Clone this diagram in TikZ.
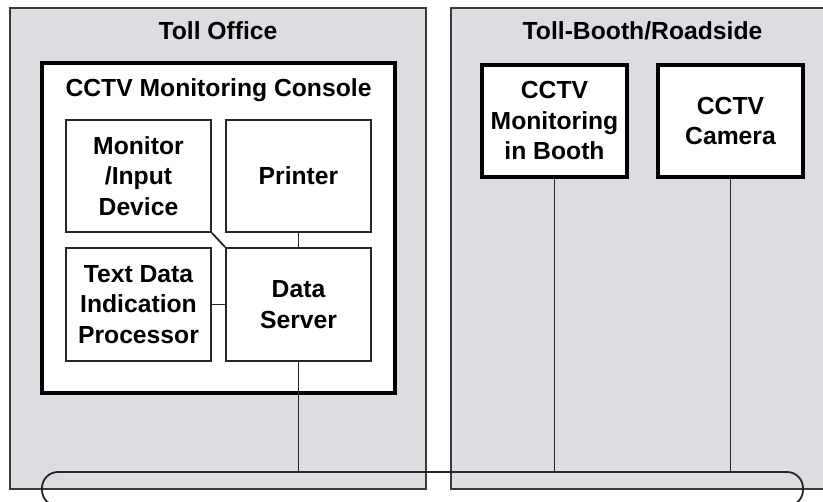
\documentclass[tikz,border=0pt]{standalone}
\usepackage{fontspec}
\setmainfont{Liberation Sans}
\definecolor{zonegray}{HTML}{DCDDE0}
\definecolor{zoneedge}{HTML}{3A3A3A}
\begin{document}
\begin{tikzpicture}[x=1pt,y=-1pt,
  txt/.style={font=\fontsize{24.7}{30.5}\selectfont\bfseries, align=center},
  zone/.style={draw=zoneedge, fill=zonegray, line width=1.8pt, inner sep=0pt},
  unitbox/.style={txt, draw=black!85, fill=white, line width=1.8pt, inner sep=0pt,
    minimum width=145pt, minimum height=112pt},
  heavybox/.style={unitbox, draw=black, line width=3.6pt},
  consolebox/.style={draw, fill=white, line width=4pt, inner sep=0pt},
  link/.style={draw=black!85, line width=1.8pt},
  busline/.style={draw=black!85, line width=1.8pt, rounded corners=16pt, inner sep=0pt}]
  \useasboundingbox (0,0) rectangle (823,502);
  \clip (0,0) rectangle (823,502);

  % zones
  \node[zone, minimum width=416pt, minimum height=481pt] (office) at (218,248.5) {};
  \node[zone, minimum width=389pt, minimum height=481pt] (roadside) at (645.5,248.5) {};
  \node[txt, anchor=base] (officetitle) at (218,39.3) {Toll Office};
  \node[txt, anchor=base] (roadtitle) at (642.5,39.3) {Toll-Booth/Roadside};

  % monitoring console
  \node[consolebox, minimum width=353pt, minimum height=330pt] (console) at (218.5,228) {};
  \node[txt, anchor=base] (consoletitle) at (218.5,96.7) {CCTV Monitoring Console};

  \node[unitbox] (monitor) at (138.5,176) {Monitor\\/Input\\Device};
  \node[unitbox] (printer) at (298.5,176) {Printer};
  \node[unitbox, minimum height=113pt] (textdata) at (138.5,304.5) {Text Data\\Indication\\Processor};
  \node[unitbox, minimum height=113pt] (server) at (298.5,304.5) {Data\\Server};

  % roadside equipment
  \node[heavybox] (booth) at (554.5,121) {CCTV\\Monitoring\\in Booth};
  \node[heavybox] (camera) at (730.5,121) {CCTV\\Camera};

  % communication bus
  \node[busline, minimum width=761pt, minimum height=34pt] (bus) at (422.5,489) {};

  % links
  \draw[link] (monitor.south east) -- (server.north west);
  \draw[link] (printer.south) -- (server.north);
  \draw[link] (textdata.east) -- (server.west);
  \draw[link] (server.south) -- (server.south |- bus.north);
  \draw[link] (booth.south) -- (booth.south |- bus.north);
  \draw[link] (camera.south) -- (camera.south |- bus.north);
\end{tikzpicture}
\end{document}
